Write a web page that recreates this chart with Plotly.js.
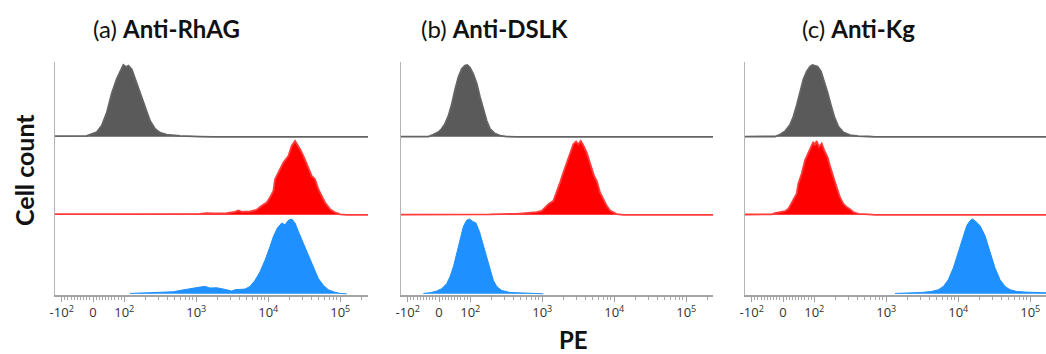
<!DOCTYPE html>
<html>
<head>
<meta charset="utf-8">
<script src="https://cdn.plot.ly/plotly-3.0.1.min.js"></script>
<style>html,body{margin:0;padding:0;background:#fff;}#chart{width:1046px;height:354px;}</style>
</head>
<body>
<div id="chart"></div>
<script>
// ---------- data ----------
const panelTitles = ['(a) <b>Anti-RhAG</b>', '(b) <b>Anti-DSLK</b>', '(c) <b>Anti-Kg</b>'];
const xAxisTitle = 'PE';
const yAxisTitle = 'Cell count';
const tickValsPE = [-100, 0, 100, 1000, 10000, 100000];
const tickLabels = ['-10<sup>2</sup>', '0', '10<sup>2</sup>', '10<sup>3</sup>', '10<sup>4</sup>', '10<sup>5</sup>'];
const minorTickPE = [-90,-80,-70,-60,-50,-40,-30,-20,-10,10,20,30,40,50,60,70,80,90,
  200,300,400,500,600,700,800,900,2000,3000,4000,5000,6000,7000,8000,9000,
  20000,30000,40000,50000,60000,70000,80000,90000,200000];

// (a) Anti-RhAG
const grayA_pe = [-20,12,28,44,60,76,92,97,106,114,127,141,166,194,228,267,314,388,593,1119,1726];
const grayA_ct = [1.3,6.7,15.7,33.6,60.5,80.7,96.4,100,97,99,94,80.7,60.5,40.4,22.4,11.2,5.8,3.1,1.3,0.4,0];
const redA_pe = [480,1119,1390,1726,2637,3446,3844,4276,5590,6900,8110,9510,10570,11780,12420,13810,16220,19020,21150,23550,25360,27630,30710,34230,38020,40090,44570,49660,55210,61380,72110,84550,99310,122700];
const redA_ct = [0.5,1.4,2.3,1.8,2.3,4.1,5.9,4.1,4.5,6.8,12.2,16.7,23.4,32.4,48.2,57.2,70.7,79.7,93.2,100,95.5,88.7,79.7,68.5,59.5,52.7,48.2,34.7,25.7,16.7,7.7,3.2,0.5,0];
const blueA_pe = [120,228,481,594,736,912,1127,1324,1553,1922,2255,2642,3105,3452,4055,4753,5581,6546,7674,9016,10570,11776,13366,15350,17100,19020,21150,23550,26180,30710,36060,42280,49660,58240,68390,80200,99310,122700];
const blueA_ct = [0.5,1.4,2.7,4.5,6.3,8.1,9.0,9.9,7.7,8.1,7.2,5.4,3.6,5.4,5.9,6.3,9.9,18,29.3,45,63.1,76.6,87.8,94.6,92.3,98.2,100,94.6,83.3,67.6,49.5,33.8,20.3,11.3,5.4,2.7,0.5,0];

// (b) Anti-DSLK
const grayB_pe = [-34,-18,-2,8.5,19,30,40.5,51,62,72.5,83,90.6,99,110,123,136,152,169,188,221,259,321,441];
const grayB_ct = [0.4,3.1,6.7,11.2,17.9,29.1,44.8,65,83,94.2,99.1,100,96.4,87.4,74,56,38.1,22.4,11.2,4.5,1.8,0.4,0];
const redB_pe = [-142,-50,56,188,441,677,836,982,1092,1218,1428,1586,1767,1963,2183,2427,2704,2944,3170,3420,3724,4140,4603,5236,5702,6340,7047,7852,8730,9710,10810,13366];
const redB_ct = [0,0.5,0.9,0.5,1.4,2.3,3.6,5.4,9.9,14.4,18.9,30.2,43.7,57.2,70.7,84.2,95.5,99.1,95.5,100,94.1,84.2,68.5,52.7,45.9,30.2,21.2,12.2,5.9,3.2,0.9,0];
const blueB_pe = [-50,-29,-7.5,8.5,24.5,35,46,56.5,67,78,88.5,97,108,120,134,149,169,188,209,233,273,356,546,836,1035];
const blueB_ct = [0.5,1.4,3.6,6.8,13.5,22.5,36,54,74.3,90,98.2,100,96.8,94.6,83.3,67.6,49.5,31.5,18,9.9,4.5,1.8,0.9,0.5,0];

// (c) Anti-Kg
const grayC_pe = [-25.6,-9.6,6.4,22.4,33,43.7,54.4,65,75.7,86.4,93.8,102,111,124,138,153,171,190,216,254,314,410,564,698];
const grayC_ct = [0.5,3.2,7.7,16.7,27.9,43.7,61.7,79.7,91,97.7,100,99.1,97.7,91,77.5,61.7,43.7,27.9,14.4,6.3,2.3,0.9,0.5,0];
const redC_pe = [-36,-25.6,-9.6,6.4,17,25.6,33,43.7,49,59.7,70.4,81,89.6,97,102,108,116,127,138,153,165,184,205,228,254,282,314,349,410,564,698];
const redC_ct = [0.5,2.3,3.6,5,8.1,14.9,21.7,28.5,42.1,55.7,73.8,82.8,91.9,98.6,94.1,100,91.9,96.4,86.9,77.8,66.5,50.7,37.1,23.5,14.9,10.4,7.7,3.6,1.4,0.5,0];
const blueC_pe = [1324,2028,3105,4276,5290,6213,7276,8546,9510,10570,11776,13094,14552,15700,17100,20060,23550,27630,32360,38020,44570,52370,64730,84550,116400,165600];
const blueC_ct = [0.5,0.9,1.8,3.2,5.4,9.9,18.9,34.7,48.2,61.7,77.5,91,97.7,100,97.7,91,77.5,57.2,34.7,18.9,9.9,5.4,3.2,2.3,1.8,1.4];

// ---------- biexponential-like display transform ----------
function T(v) {
  const a = Math.abs(v);
  const d = a <= 100 ? a / (100 * Math.LN10) : 1 / Math.LN10 + Math.log10(a / 100);
  return v < 0 ? -d : d;
}

const W = 1046, H = 354;
const panels = [
  {left: 55, right: 368, series: [[grayA_pe, grayA_ct], [redA_pe, redA_ct], [blueA_pe, blueA_ct]]},
  {left: 401, right: 713, series: [[grayB_pe, grayB_ct], [redB_pe, redB_ct], [blueB_pe, blueB_ct]]},
  {left: 745, right: 1046, series: [[grayC_pe, grayC_ct], [redC_pe, redC_ct], [blueC_pe, blueC_ct]]}
];
const bands = [[62, 138], [138, 216], [216, 295]];
const fills = ['#5a5a5a', '#ff0000', '#1e90ff'];
const lines = ['#646464', '#ff3b3b', '#1e90ff'];
const pxPerUnit = 72;
const zeroOffset = 38;

const traces = [];
const layout = {
  width: W, height: H,
  margin: {l: 0, r: 0, t: 0, b: 0},
  paper_bgcolor: '#fff', plot_bgcolor: 'rgba(0,0,0,0)',
  showlegend: false,
  annotations: [],
  font: {family: 'Lato, "Open Sans", sans-serif'}
};

panels.forEach((p, pi) => {
  const xname = pi === 0 ? 'x' : 'x' + (pi + 1);
  const xkey = pi === 0 ? 'xaxis' : 'xaxis' + (pi + 1);
  const r0 = -zeroOffset / pxPerUnit;
  const r1 = r0 + (p.right - p.left) / pxPerUnit;
  const bottomY = 'y' + (pi * 3 + 3);
  layout[xkey] = {
    domain: [p.left / W, p.right / W],
    range: [r0, r1],
    anchor: bottomY,
    showline: true, linecolor: '#a3a3a3', linewidth: 1.5,
    showgrid: false, zeroline: false,
    ticks: 'outside', ticklen: 5, tickcolor: '#a0a0a0', tickwidth: 1,
    tickmode: 'array',
    tickvals: tickValsPE.map(T),
    ticktext: tickLabels,
    tickfont: {family: '"Open Sans", sans-serif', size: 13, color: '#333'},
    minor: {tickmode: 'array', tickvals: minorTickPE.map(T), ticks: 'outside', ticklen: 3, tickcolor: '#a8a8a8', tickwidth: 1, showgrid: false},
    fixedrange: true
  };
  p.series.forEach((s, bi) => {
    const idx = pi * 3 + bi + 1;
    const yname = idx === 1 ? 'y' : 'y' + idx;
    const ykey = idx === 1 ? 'yaxis' : 'yaxis' + idx;
    const b = bands[bi];
    layout[ykey] = {
      domain: [1 - b[1] / H, 1 - b[0] / H],
      range: [-1.6, 104],
      anchor: xname,
      showline: true, linecolor: '#b4b4b4', linewidth: 1.5,
      showgrid: false, zeroline: false, showticklabels: false, ticks: '',
      fixedrange: true
    };
    let xs = s[0].slice(), ys = s[1].slice();
    if (bi < 2) { // baseline extends across the full panel
      xs = [-100000].concat(xs, [10000000]);
      ys = [0].concat(ys, [0]);
    }
    traces.push({
      type: 'scatter', mode: 'lines',
      x: xs.map(T), y: ys,
      xaxis: xname, yaxis: yname,
      fill: 'tozeroy', fillcolor: fills[bi],
      line: {color: lines[bi], width: bi < 2 ? 1.8 : 1},
      hoverinfo: 'skip'
    });
  });
});

// titles
const titleCenters = [166, 494, 858];
panelTitles.forEach((t, i) => {
  layout.annotations.push({
    xref: 'paper', yref: 'paper', x: titleCenters[i] / W, y: 1 - 28 / H,
    xanchor: 'center', yanchor: 'middle', showarrow: false,
    text: t, font: {family: 'Lato, sans-serif', size: 24, color: '#111'}
  });
});
layout.annotations.push({
  xref: 'paper', yref: 'paper', x: 573 / W, y: 1 - 339 / H,
  xanchor: 'center', yanchor: 'middle', showarrow: false,
  text: '<b>' + xAxisTitle + '</b>', font: {family: 'Lato, sans-serif', size: 24, color: '#111'}
});
layout.annotations.push({
  xref: 'paper', yref: 'paper', x: 24 / W, y: 1 - 170 / H,
  xanchor: 'center', yanchor: 'middle', showarrow: false, textangle: -90,
  text: '<b>' + yAxisTitle + '</b>', font: {family: 'Lato, sans-serif', size: 25, color: '#111'}
});

Plotly.newPlot('chart', traces, layout, {staticPlot: true, displayModeBar: false});
</script>
</body>
</html>
